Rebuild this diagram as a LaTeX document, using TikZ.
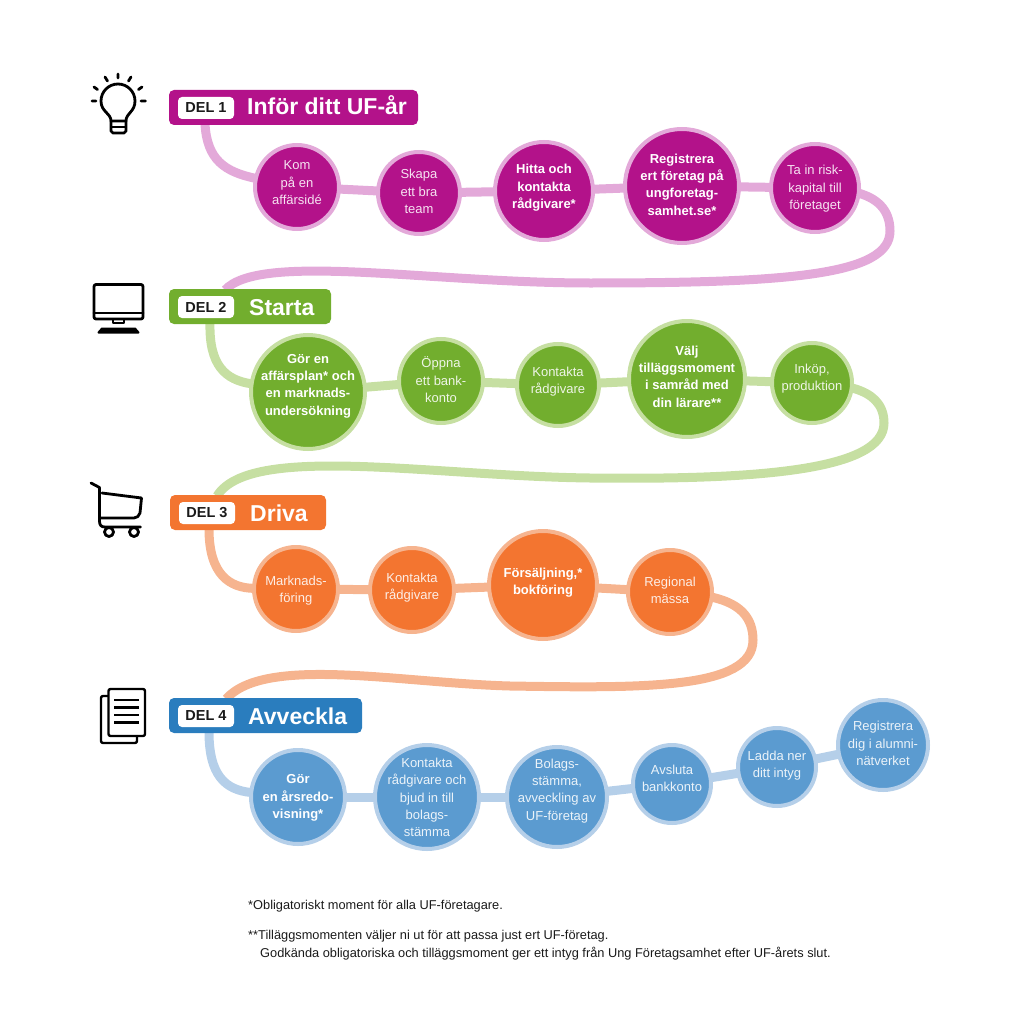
\documentclass[tikz,border=0pt]{standalone}
\usepackage{fontspec}
\setmainfont{Liberation Sans}
\usetikzlibrary{backgrounds}
\definecolor{mag}{HTML}{B3128A}\definecolor{magl}{HTML}{E3A9D9}
\definecolor{grn}{HTML}{72AE2E}\definecolor{grnl}{HTML}{C6DFA2}
\definecolor{org}{HTML}{F37530}\definecolor{orgl}{HTML}{F6B48F}
\definecolor{blu}{HTML}{5B9BD0}\definecolor{blul}{HTML}{B5CFE9}
\definecolor{bbl}{HTML}{2A7DBE}
\definecolor{ink}{HTML}{1A1A1A}
% zero-size centred text block, so that the circle keeps its given size; #1 = vertical shift in px
\newcommand{\ctxt}[2][0]{\makebox[0pt]{\raisebox{\dimexpr -#1pt-4.6pt\relax}[0pt][0pt]{\begin{tabular}{@{}c@{}}#2\end{tabular}}}}
\tikzset{
  x=1pt,y=-1pt,
  stepc/.style n args={3}{circle,fill=#1,draw=#2,line width=4pt,minimum size=#3*2pt-4pt,inner sep=0pt,outer sep=0pt,align=center,font=\fontsize{13}{17.3}\selectfont,text=white!88!#1},
  bt/.style={font=\fontsize{13}{17.3}\selectfont\bfseries,text=white},
  conn/.style={line width=9pt,draw=#1},
  banner/.style={fill=#1,rounded corners=5pt,inner sep=0pt,outer sep=0pt},
  delbox/.style={fill=white,rounded corners=4pt,inner sep=0pt,outer sep=0pt,minimum width=56pt,minimum height=22pt,font=\fontsize{14.5}{15}\selectfont\bfseries,text=ink},
  title/.style={anchor=base west,inner sep=0pt,text=white,font=\fontsize{23}{24}\selectfont\bfseries},
  foot/.style={anchor=base west,inner sep=0pt,text=ink,font=\fontsize{12.8}{14}\selectfont},
  icon/.style={draw=black,line width=2.8pt,line cap=round,line join=round},
}
\begin{document}
\begin{tikzpicture}
\useasboundingbox (0,0) rectangle (1024,1024);
% banners
\node[banner=mag,minimum width=249pt,minimum height=35pt] (b1) at (293.5,107.5) {};
\node[delbox] (d1) at (206,108) {DEL 1};
\node[title] (t1) at (247,115) {Inför ditt UF-år};
\node[banner=grn,minimum width=162pt,minimum height=35pt] (b2) at (250,306.5) {};
\node[delbox] (d2) at (206,307) {DEL 2};
\node[title] (t2) at (249,315) {Starta};
\node[banner=org,minimum width=156pt,minimum height=35pt] (b3) at (248,512.5) {};
\node[delbox] (d3) at (207,513) {DEL 3};
\node[title] (t3) at (250,521) {Driva};
\node[banner=bbl,minimum width=193pt,minimum height=35pt] (b4) at (265.5,715.5) {};
\node[delbox] (d4) at (206,716) {DEL 4};
\node[title] (t4) at (248,724) {Avveckla};
% row 1
\node[stepc={mag}{magl}{44}] (a1) at (297,187) {\ctxt[-5]{Kom\\på en\\affärsidé}};
\node[stepc={mag}{magl}{43}] (a2) at (419,193) {\ctxt[-2]{Skapa\\ett bra\\team}};
\node[stepc={mag}{magl}{51},bt] (a3) at (544,191) {\ctxt[-5]{Hitta och\\kontakta\\rådgivare*}};
\node[stepc={mag}{magl}{59},bt] (a4) at (682,186) {\ctxt[-2]{Registrera\\ert företag på\\ungforetag-\\samhet.se*}};
\node[stepc={mag}{magl}{46}] (a5) at (815,188) {\ctxt[-1]{Ta in risk-\\kapital till\\företaget}};
% row 2
\node[stepc={grn}{grnl}{59},bt] (g1) at (308,392) {\ctxt[-8]{Gör en\\affärsplan* och\\en marknads-\\undersökning}};
\node[stepc={grn}{grnl}{44}] (g2) at (441,381) {\ctxt[-1]{Öppna\\ett bank-\\konto}};
\node[stepc={grn}{grnl}{43}] (g3) at (558,385) {\ctxt[-5]{Kontakta\\rådgivare}};
\node[stepc={grn}{grnl}{60},bt] (g4) at (687,379) {\ctxt[-3]{Välj\\tilläggsmoment\\i samråd med\\din lärare**}};
\node[stepc={grn}{grnl}{42}] (g5) at (812,383) {\ctxt[-6]{Inköp,\\produktion}};
% row 3
\node[stepc={org}{orgl}{44}] (o1) at (296,589) {\ctxt[0]{Marknads-\\föring}};
\node[stepc={org}{orgl}{44}] (o2) at (412,590) {\ctxt[-4]{Kontakta\\rådgivare}};
\node[stepc={org}{orgl}{56},bt] (o3) at (543,585) {\ctxt[-4]{Försäljning,*\\bokföring}};
\node[stepc={org}{orgl}{44}] (o4) at (670,592) {\ctxt[-2]{Regional\\mässa}};
% row 4
\node[stepc={blu}{blul}{49},bt] (l1) at (298,797) {\ctxt[-1]{Gör\\en årsredo-\\visning*}};
\node[stepc={blu}{blul}{54}] (l2) at (427,797) {\ctxt[0]{Kontakta\\rådgivare och\\bjud in till\\bolags-\\stämma}};
\node[stepc={blu}{blul}{52}] (l3) at (557,797) {\ctxt[-8]{Bolags-\\stämma,\\avveckling av\\UF-företag}};
\node[stepc={blu}{blul}{41}] (l4) at (672,784) {\ctxt[-6]{Avsluta\\bankkonto}};
\node[stepc={blu}{blul}{41}] (l5) at (777,767) {\ctxt[-3]{Ladda ner\\ditt intyg}};
\node[stepc={blu}{blul}{47}] (l6) at (883,745) {\ctxt[-2]{Registrera\\dig i alumni-\\nätverket}};
% anchors on banners
\coordinate (s1) at (205,124);
\coordinate (e2) at (225,290);
\coordinate (s2) at (210,323);
\coordinate (e3) at (217,496);
\coordinate (s3) at (209,529);
\coordinate (e4) at (226,699);
\coordinate (s4) at (209,732);
\begin{scope}[on background layer]
\draw[conn=magl] (s1) .. controls (207,160) and (225,172) .. (a1);
\draw[conn=magl] (a1) -- (a2);
\draw[conn=magl] (a2) -- (a3);
\draw[conn=magl] (a3) -- (a4);
\draw[conn=magl] (a4) -- (a5);
\draw[conn=magl] (a5.center) .. controls (830,190) and (890,185) .. (890,231)
  .. controls (890,275) and (790,283) .. (590,283)
  .. controls (430,283) and (260,252) .. (e2);
\draw[conn=grnl] (s2) .. controls (209,365) and (225,380) .. (g1);
\draw[conn=grnl] (g1) -- (g2);
\draw[conn=grnl] (g2) -- (g3);
\draw[conn=grnl] (g3) -- (g4);
\draw[conn=grnl] (g4) -- (g5);
\draw[conn=grnl] (g5.center) .. controls (830,385) and (884,383) .. (884,423)
  .. controls (884,470) and (760,480) .. (590,478)
  .. controls (430,476) and (250,443) .. (e3);
\draw[conn=orgl] (s3) .. controls (209,575) and (230,588) .. (o1);
\draw[conn=orgl] (o1) -- (o2);
\draw[conn=orgl] (o2) -- (o3);
\draw[conn=orgl] (o3) -- (o4);
\draw[conn=orgl] (o4.center) .. controls (700,595) and (753,595) .. (753,640)
  .. controls (753,690) and (640,688) .. (510,686)
  .. controls (400,683) and (265,655) .. (e4);
\draw[conn=blul] (s4) .. controls (209,775) and (225,790) .. (l1);
\draw[conn=blul] (l1) -- (l2);
\draw[conn=blul] (l2) -- (l3);
\draw[conn=blul] (l3) -- (l4);
\draw[conn=blul] (l4) -- (l5);
\draw[conn=blul] (l5) -- (l6);
\end{scope}
% footnotes
\node[foot] (f1) at (248,909) {*Obligatoriskt moment för alla UF-företagare.};
\node[foot] (f2) at (248,939) {**Tilläggsmomenten väljer ni ut för att passa just ert UF-företag.};
\node[foot] (f3) at (260,957) {Godkända obligatoriska och tilläggsmoment ger ett intyg från Ung Företagsamhet efter UF-årets slut.};
% bulb icon
\draw[icon] (111,121) .. controls (111,113) and (101,112) .. (101,101) arc[start angle=180,end angle=360,radius=17] .. controls (135,112) and (126,113) .. (126,121) -- cycle;
\draw[icon] (111,121) -- (111,131) -- (113,133) -- (124,133) -- (126,131) -- (126,121);
\draw[icon,line width=1.6pt] (111,127) -- (126,127);
\draw[icon] (118,74) -- (118,78) (105,77) -- (107.5,81) (131,77) -- (128.5,81) (94,87) -- (97.5,89.5) (142,87) -- (138.5,89.5) (92,101) -- (96,101) (141,101) -- (145.5,101);
% monitor icon
\draw[icon,rounded corners=2pt] (94,284.5) rectangle (143,319);
\draw[icon] (94,313) -- (143,313);
\draw[icon,line width=2pt] (113,319) -- (113,323) -- (124,323) -- (124,319);
\draw[icon,line width=2pt,fill=black] (102,328.5) -- (135,328.5) -- (138.5,332.5) -- (98.5,332.5) -- cycle;
% cart icon
\draw[icon] (91,483) -- (99.5,487.5) -- (99.5,521) .. controls (99.5,525) and (101,527) .. (105,527) -- (140.5,527);
\draw[icon] (102,493) -- (141.5,498) -- (140,513) .. controls (139,516) and (137,518) .. (134,518) -- (100,518);
\draw[icon,fill=white] (109,532) circle[radius=4.5];
\draw[icon,fill=white] (134,532) circle[radius=4.5];
% document icon
\draw[icon,rounded corners=2pt,line width=2.4pt] (108,696) -- (101,696) -- (101,743) -- (137,743) -- (137,736);
\draw[icon,rounded corners=2pt,line width=2.4pt] (108.5,689) rectangle (145,736);
\draw[icon,line cap=butt] (114,700) -- (139,700) (114,707.5) -- (139,707.5) (114,715) -- (139,715) (114,722.5) -- (139,722.5);
\end{tikzpicture}
\end{document}
